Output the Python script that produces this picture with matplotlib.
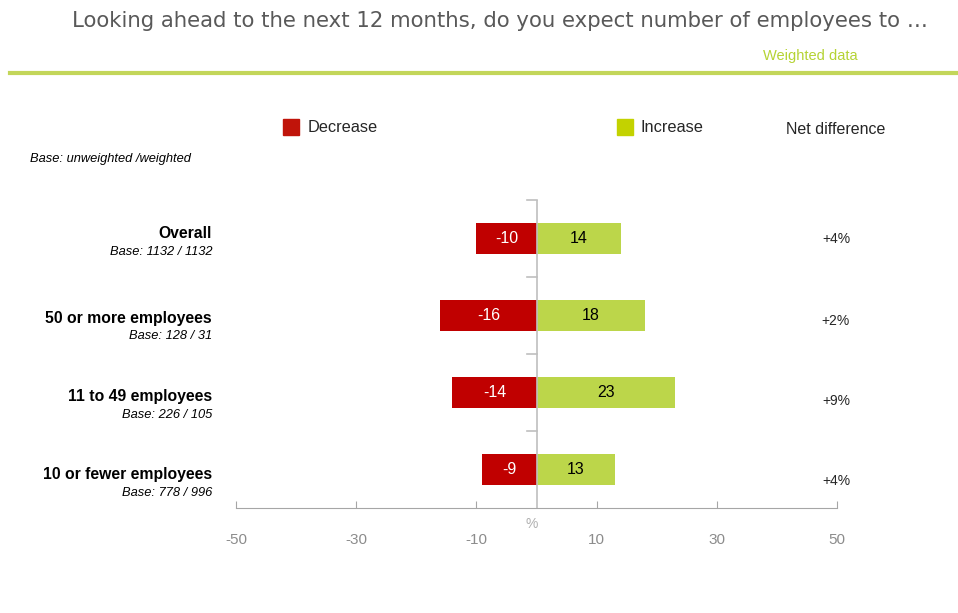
import matplotlib.pyplot as plt
import matplotlib.patches as mpatches

plt.rcParams['font.family'] = ['Liberation Sans', 'DejaVu Sans']

groups = ['Overall', '50 or more employees', '11 to 49 employees', '10 or fewer employees']
bases = ['Base: 1132 / 1132', 'Base: 128 / 31', 'Base: 226 / 105', 'Base: 778 / 996']
decrease = [-10, -16, -14, -9]
increase = [14, 18, 23, 13]
net = ['+4%', '+2%', '+9%', '+4%']
xticks = [-50, -30, -10, 10, 30, 50]

red = '#c00000'
green = '#bcd64a'
grey = '#a6a6a6'

W, H = 958, 613
fig = plt.figure(figsize=(W / 100, H / 100), dpi=100)
ax = fig.add_axes([236 / W, (H - 508) / H, (837 - 236) / W, 308 / H])

y = list(range(len(groups)))
ax.barh(y, decrease, height=0.4, color=red)
ax.barh(y, increase, height=0.4, color=green)
for i in y:
    ax.text(decrease[i] / 2, i, str(decrease[i]), ha='center', va='center',
            color='white', fontsize=11.5)
    ax.text(increase[i] / 2, i, str(increase[i]), ha='center', va='center',
            color='black', fontsize=11.5)

ax.set_xlim(-50, 50)
ax.set_ylim(len(groups) - 0.5, -0.5)
ax.set_xticks(xticks)
ax.set_xticklabels([str(t) for t in xticks])
ax.tick_params(axis='x', colors=grey, labelcolor='#8c8c8c', labelsize=11,
               length=5, direction='in', pad=18)
ax.set_yticks([])
for s in ['top', 'right', 'left']:
    ax.spines[s].set_visible(False)
ax.spines['bottom'].set_color(grey)

# vertical zero line with small category separators
ax.axvline(0, color='#bfbfbf', lw=1.2)
for b in [-0.5, 0.5, 1.5, 2.5]:
    ax.plot([-1.5, 0], [b, b], color='#bfbfbf', lw=1.2, clip_on=False)

ax.text(-0.8, len(groups) - 0.5 + 0.12, '%', ha='center', va='top',
        color='#b0b0b0', fontsize=10)

# category labels and bases
ty = [234, 318, 397, 475]
for i in y:
    fig.text(212 / W, 1 - ty[i] / H, groups[i], ha='right', va='center',
             fontsize=11.3, fontweight='bold')
    fig.text(212 / W, 1 - (ty[i] + 18) / H, bases[i], ha='right', va='center',
             fontsize=9.3, style='italic')

# net difference column
ny = [239, 321, 401, 481]
for i in y:
    fig.text(836 / W, 1 - ny[i] / H, net[i], ha='center', va='center',
             fontsize=10, color='#262626')

# header
fig.text(72 / W, 1 - 21 / H, 'Looking ahead to the next 12 months, do you expect number of employees to …',
         ha='left', va='center', fontsize=15.3, color='#595959',
         family=['DejaVu Sans'])
fig.text(858 / W, 1 - 56 / H, 'Weighted data', ha='right', va='center',
         fontsize=10.5, color='#b5d334')
fig.add_artist(plt.Line2D([10 / W, 1], [1 - 73 / H, 1 - 73 / H],
                          color='#c3d65a', lw=3, transform=fig.transFigure))

# legend
fig.add_artist(mpatches.Rectangle((283 / W, 1 - 135 / H), 16 / W, 16 / H,
                                  color='#c0140a', transform=fig.transFigure))
fig.text(308 / W, 1 - 128 / H, 'Decrease', ha='left', va='center',
         fontsize=11.8, color='#262626')
fig.add_artist(mpatches.Rectangle((617 / W, 1 - 135 / H), 16 / W, 16 / H,
                                  color='#c3d200', transform=fig.transFigure))
fig.text(641 / W, 1 - 127 / H, 'Increase', ha='left', va='center',
         fontsize=11.8, color='#262626')
fig.text(786 / W, 1 - 129 / H, 'Net difference', ha='left', va='center',
         fontsize=11.5, color='#262626')

fig.text(30 / W, 1 - 159 / H, 'Base: unweighted /weighted', ha='left',
         va='center', fontsize=9.3, style='italic')

fig.savefig('out.png', dpi=100)
